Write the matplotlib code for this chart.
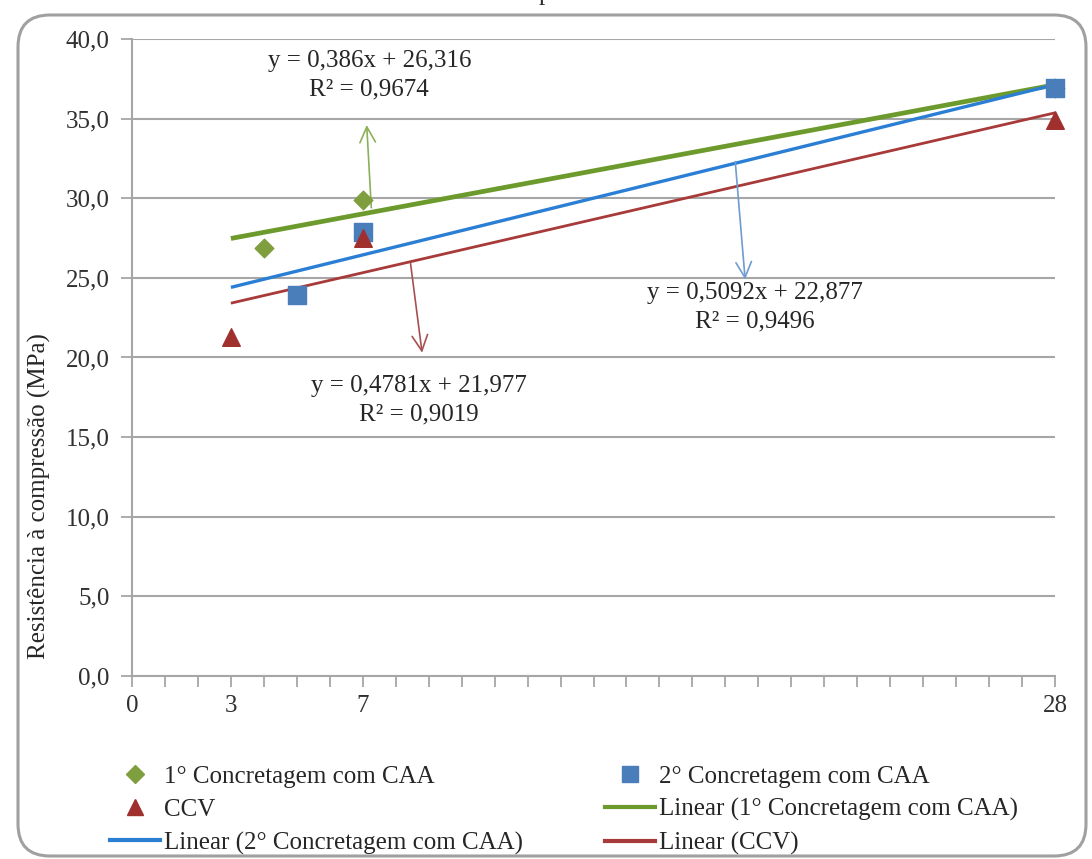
import matplotlib.pyplot as plt
from matplotlib.patches import FancyBboxPatch
from matplotlib.lines import Line2D
from matplotlib.ticker import FuncFormatter, MultipleLocator

# idade (dias) e resistência (MPa)
x_caa1 = [4, 7, 28]
y_caa1 = [26.9, 29.9, 36.9]
x_caa2 = [5, 7, 28]
y_caa2 = [23.9, 27.9, 36.9]
x_ccv = [3, 7, 28]
y_ccv = [21.3, 27.5, 34.9]

# linhas de tendência (coeficientes do Excel)
fit_caa1 = (0.386, 26.316, 0.9674)
fit_caa2 = (0.5092, 22.877, 0.9496)
fit_ccv = (0.4781, 21.977, 0.9019)
x_fit = [3, 28]

x_ticks = [0, 3, 7, 28]

serif = 'Liberation Serif'
green_m, green_l = '#7f9f3f', '#6d9a2c'
blue_m, blue_l = '#4a7ebb', '#2a7fd4'
red_m, red_l = '#a0302e', '#a83a3a'
grid_c = '#a6a6a6'
txt_c = '#262626'

fig = plt.figure(figsize=(10.92, 8.59), dpi=100)
ax = fig.add_axes([132 / 1092, 1 - 676 / 859, 923 / 1092, 637 / 859])


def line(fit):
    return [fit[0] * v + fit[1] for v in x_fit]


ax.plot(x_fit, line(fit_caa1), color=green_l, lw=3.4, zorder=3, solid_capstyle='butt')
ax.plot(x_fit, line(fit_caa2), color=blue_l, lw=2.4, zorder=3, solid_capstyle='butt')
ax.plot(x_fit, line(fit_ccv), color=red_l, lw=2.0, zorder=3, solid_capstyle='butt')

ax.scatter(x_caa1, y_caa1, marker='D', s=90, color=green_m, zorder=4, clip_on=False)
ax.scatter(x_caa2, y_caa2, marker='s', s=160, color=blue_m, zorder=5, clip_on=False)
ax.scatter(x_ccv, y_ccv, marker='^', s=160, color=red_m, zorder=6, clip_on=False)


def eq_text(fit):
    a = f'{fit[0]:g}'.replace('.', ',')
    b = f'{fit[1]:g}'.replace('.', ',')
    r = f'{fit[2]:g}'.replace('.', ',')
    return f'y = {a}x + {b}\nR² = {r}'


eq_kw = dict(ha='center', va='center', fontsize=18, family=serif, color=txt_c, linespacing=1.4)
ax.text(7.2, 37.74, eq_text(fit_caa1), **eq_kw)
ax.text(18.9, 23.17, eq_text(fit_caa2), **eq_kw)
ax.text(8.7, 17.33, eq_text(fit_ccv), **eq_kw)

arrow = dict(arrowstyle='->', lw=1.2, mutation_scale=28, shrinkA=0, shrinkB=0)
ax.annotate('', xy=(7.12, 34.6), xytext=(7.26, 29.4), arrowprops=dict(arrow, color='#8bb05a'))
ax.annotate('', xy=(18.6, 24.9), xytext=(18.3, 32.3), arrowprops=dict(arrow, color='#6f9bd0'))
ax.annotate('', xy=(8.8, 20.3), xytext=(8.45, 25.9), arrowprops=dict(arrow, color='#a85050'))

ax.set_xlim(0, 28)
ax.set_ylim(0, 40)
ax.set_xticks(x_ticks)
ax.xaxis.set_minor_locator(MultipleLocator(1))
ax.yaxis.set_major_locator(MultipleLocator(5))
ax.yaxis.set_major_formatter(FuncFormatter(lambda v, p: f'{v:.1f}'.replace('.', ',')))
ax.tick_params(axis='both', which='both', direction='out', length=8, width=1.3,
               color=grid_c, labelsize=18, labelcolor='#303030')
ax.tick_params(axis='y', pad=8)
ax.tick_params(axis='x', pad=6)
for lab in ax.get_xticklabels() + ax.get_yticklabels():
    lab.set_family(serif)
ax.grid(axis='y', color=grid_c, lw=1.5)
ax.set_axisbelow(True)
for s in ['top', 'right']:
    ax.spines[s].set_visible(False)
for s in ['left', 'bottom']:
    ax.spines[s].set_color(grid_c)
    ax.spines[s].set_linewidth(1.5)

fig.text(39 / 1092, 1 - 496 / 859, 'Resistência à compressão (MPa)', family=serif,
         fontsize=18, color=txt_c, rotation=90, ha='center', va='center')

# legenda em duas colunas
h_caa1 = Line2D([], [], ls='none', marker='D', ms=9, color=green_m)
h_caa2 = Line2D([], [], ls='none', marker='s', ms=12, color=blue_m)
h_ccv = Line2D([], [], ls='none', marker='^', ms=12, color=red_m)
h_l1 = Line2D([], [], color=green_l, lw=3)
h_l2 = Line2D([], [], color=blue_l, lw=3)
h_l3 = Line2D([], [], color=red_l, lw=3)

leg_kw = dict(frameon=False, loc='center left', prop={'family': serif, 'size': 18},
              handlelength=2.0, handletextpad=0.15, labelspacing=0.42,
              borderpad=0, borderaxespad=0, labelcolor=txt_c)
leg1 = fig.legend([h_caa1, h_ccv, h_l2],
                  ['1° Concretagem com CAA', 'CCV', 'Linear (2° Concretagem com CAA)'],
                  bbox_to_anchor=(110 / 1092, 1 - 810 / 859), **leg_kw)
leg2 = fig.legend([h_caa2, h_l1, h_l3],
                  ['2° Concretagem com CAA', 'Linear (1° Concretagem com CAA)', 'Linear (CCV)'],
                  bbox_to_anchor=(605 / 1092, 1 - 810 / 859), **leg_kw)

# moldura arredondada
frame = FancyBboxPatch((0.18, 0.03), 10.68, 8.41, boxstyle='round,pad=0,rounding_size=0.32',
                       transform=fig.dpi_scale_trans, fill=False, ec='#a0a0a0', lw=2.2)
fig.patches.append(frame)

# título cortado no topo
fig.text(545 / 1092, 1.0, 'p', family=serif, fontsize=18, ha='center', va='baseline',
         color=txt_c)

fig.savefig('out.png', dpi=100)
